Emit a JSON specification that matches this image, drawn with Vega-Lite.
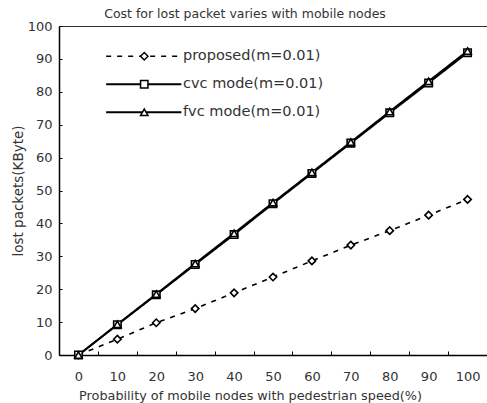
{
  "$schema": "https://vega.github.io/schema/vega-lite/v6.json",
  "width": 428,
  "height": 329,
  "autosize": {"type": "none"},
  "padding": {"left": 59, "top": 26, "right": 0, "bottom": 48},
  "background": "white",
  "config": {"view": {"stroke": null}, "font": "DejaVu Sans"},
  "title": {"text": "Cost for lost packet varies with mobile nodes", "fontSize": 12.5, "fontWeight": "normal", "color": "#333", "anchor": "middle", "dx": -28, "dy": 8, "offset": 8},
  "data": {"values": [
    {"x": 0, "series": "proposed(m=0.01)", "y": 0},
    {"x": 10, "series": "proposed(m=0.01)", "y": 4.8},
    {"x": 20, "series": "proposed(m=0.01)", "y": 9.8},
    {"x": 30, "series": "proposed(m=0.01)", "y": 14.1},
    {"x": 40, "series": "proposed(m=0.01)", "y": 18.9},
    {"x": 50, "series": "proposed(m=0.01)", "y": 23.7},
    {"x": 60, "series": "proposed(m=0.01)", "y": 28.6},
    {"x": 70, "series": "proposed(m=0.01)", "y": 33.4},
    {"x": 80, "series": "proposed(m=0.01)", "y": 37.8},
    {"x": 90, "series": "proposed(m=0.01)", "y": 42.5},
    {"x": 100, "series": "proposed(m=0.01)", "y": 47.3},
    {"x": 0, "series": "cvc mode(m=0.01)", "y": 0},
    {"x": 10, "series": "cvc mode(m=0.01)", "y": 9.2},
    {"x": 20, "series": "cvc mode(m=0.01)", "y": 18.3},
    {"x": 30, "series": "cvc mode(m=0.01)", "y": 27.5},
    {"x": 40, "series": "cvc mode(m=0.01)", "y": 36.6},
    {"x": 50, "series": "cvc mode(m=0.01)", "y": 46.0},
    {"x": 60, "series": "cvc mode(m=0.01)", "y": 55.2},
    {"x": 70, "series": "cvc mode(m=0.01)", "y": 64.4},
    {"x": 80, "series": "cvc mode(m=0.01)", "y": 73.6},
    {"x": 90, "series": "cvc mode(m=0.01)", "y": 82.7},
    {"x": 100, "series": "cvc mode(m=0.01)", "y": 91.9},
    {"x": 0, "series": "fvc mode(m=0.01)", "y": 0},
    {"x": 10, "series": "fvc mode(m=0.01)", "y": 9.3},
    {"x": 20, "series": "fvc mode(m=0.01)", "y": 18.5},
    {"x": 30, "series": "fvc mode(m=0.01)", "y": 27.8},
    {"x": 40, "series": "fvc mode(m=0.01)", "y": 37.0},
    {"x": 50, "series": "fvc mode(m=0.01)", "y": 46.3},
    {"x": 60, "series": "fvc mode(m=0.01)", "y": 55.5},
    {"x": 70, "series": "fvc mode(m=0.01)", "y": 64.7},
    {"x": 80, "series": "fvc mode(m=0.01)", "y": 74.0},
    {"x": 90, "series": "fvc mode(m=0.01)", "y": 83.2},
    {"x": 100, "series": "fvc mode(m=0.01)", "y": 92.4}
  ]},
  "encoding": {
    "x": {
      "field": "x", "type": "quantitative",
      "scale": {"domain": [-5, 105], "nice": false, "zero": false},
      "axis": {
        "values": [0, 5, 10, 15, 20, 25, 30, 35, 40, 45, 50, 55, 60, 65, 70, 75, 80, 85, 90, 95, 100],
        "labelExpr": "datum.value % 10 == 0 ? datum.label : ''",
        "tickOpacity": {"condition": {"test": "datum.value % 10 == 5", "value": 1}, "value": 0},
        "tickSize": -4,
        "tickColor": "black",
        "domainColor": "black",
        "domainWidth": 1.5,
        "grid": false,
        "labelOverlap": false,
        "labelFlush": false,
        "labelFontSize": 13,
        "labelColor": "#333",
        "labelPadding": 19,
        "title": "Probability of mobile nodes with pedestrian speed(%)",
        "titleFontSize": 12.8,
        "titleFontWeight": "normal",
        "titleColor": "#333",
        "titleX": 191,
        "titlePadding": 6
      }
    },
    "y": {
      "field": "y", "type": "quantitative",
      "scale": {"domain": [0, 100], "nice": false},
      "axis": {
        "values": [0, 10, 20, 30, 40, 50, 60, 70, 80, 90, 100],
        "tickSize": -3,
        "tickColor": "black",
        "domainColor": "black",
        "domainWidth": 1.5,
        "grid": true,
        "gridColor": "#333",
        "gridWidth": 1,
        "gridOpacity": {"condition": {"test": "datum.value == 100", "value": 1}, "value": 0},
        "labelFontSize": 13,
        "labelColor": "#333",
        "labelPadding": 10,
        "title": "lost packets(KByte)",
        "titleFontSize": 13.5,
        "titleFontWeight": "normal",
        "titleColor": "#333",
        "titlePadding": 2
      }
    }
  },
  "layer": [
    {
      "mark": {"type": "line", "color": "black"},
      "encoding": {
        "strokeDash": {
          "field": "series", "type": "nominal",
          "scale": {"domain": ["proposed(m=0.01)", "cvc mode(m=0.01)", "fvc mode(m=0.01)"], "range": [[5, 6], [1, 0], [1, 0]]},
          "legend": {"orient": "none", "legendX": 77.5, "legendY": 23, "title": null, "symbolType": "M-9.4,0H9.4", "symbolSize": 64, "symbolStrokeColor": "black", "labelFontSize": 14.5, "labelColor": "#333", "rowPadding": 13, "labelOffset": 32,
            "encode": {"symbols": {"update": {"strokeWidth": {"signal": "datum.value == 'proposed(m=0.01)' ? 2.8 : datum.value == 'cvc mode(m=0.01)' ? 2 : 1.1"}, "strokeDash": {"signal": "datum.value == 'proposed(m=0.01)' ? [4, 4] : [1, 0]"}}}}}
        },
        "strokeWidth": {
          "field": "series", "type": "nominal",
          "scale": {"domain": ["proposed(m=0.01)", "cvc mode(m=0.01)", "fvc mode(m=0.01)"], "range": [1.6, 2, 1]},
          "legend": {"orient": "none", "legendX": 77.5, "legendY": 23, "title": null, "symbolType": "M-9.4,0H9.4", "symbolSize": 64, "symbolStrokeColor": "black", "labelFontSize": 14.5, "labelColor": "#333", "rowPadding": 13, "labelOffset": 32}
        }
      }
    },
    {
      "mark": {"type": "point", "filled": false, "fill": "white", "fillOpacity": 1, "stroke": "black", "strokeWidth": 1.6, "opacity": 1, "size": 55},
      "encoding": {
        "shape": {
          "field": "series", "type": "nominal",
          "scale": {"domain": ["proposed(m=0.01)", "cvc mode(m=0.01)", "fvc mode(m=0.01)", " "], "range": ["diamond", "square", "triangle-up", "circle"]},
          "legend": {"orient": "none", "legendX": 78, "legendY": 23, "title": null, "values": ["proposed(m=0.01)", "cvc mode(m=0.01)", "fvc mode(m=0.01)"], "symbolSize": 55, "labelFontSize": 14.5, "labelOpacity": 0, "labelExpr": "' '", "rowPadding": 13,
            "encode": {"symbols": {"update": {"stroke": {"value": "black"}, "strokeWidth": {"value": 1.6}, "fill": {"value": "white"}, "opacity": {"value": 1}, "fillOpacity": {"value": 1}, "strokeOpacity": {"value": 1}}}}}
        }
      }
    }
  ]
}
